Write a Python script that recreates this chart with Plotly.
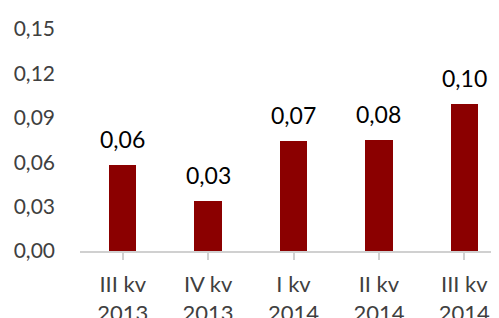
import plotly.graph_objects as go

categories = ["III kv<br>2013", "IV kv<br>2013", "I kv<br>2014", "II kv<br>2014", "III kv<br>2014"]
values = [0.058, 0.034, 0.074, 0.0752, 0.099]
y_ticks = [0.0, 0.03, 0.06, 0.09, 0.12, 0.15]
y_tick_text = ["0,00", "0,03", "0,06", "0,09", "0,12", "0,15"]
bar_color = "#8B0000"

fig = go.Figure()
fig.add_trace(go.Bar(
    x=list(range(len(categories))),
    y=values,
    marker=dict(color=bar_color, line=dict(width=0)),
    width=0.32,
    hoverinfo="skip",
))

annotations = []
for i, v in enumerate(values):
    annotations.append(dict(
        x=i, y=v, xref="x", yref="y",
        text=f"{v:.2f}".replace(".", ","),
        showarrow=False, yanchor="middle", yshift=26,
        font=dict(family="Lato", size=23, color="#000000"),
    ))

# page body has an 8px default margin; compensate in the layout
W = 483
fig.update_layout(
    width=W, height=326,
    margin=dict(l=72, r=0, t=21, b=83, autoexpand=False),
    paper_bgcolor="white", plot_bgcolor="white",
    showlegend=False,
    bargap=0,
    annotations=annotations,
    font=dict(family="Lato", size=22, color="#404040"),
)
fig.update_xaxes(
    range=[-0.5, -0.5 + (W - 72) / 85.4],
    tickmode="array",
    tickvals=list(range(len(categories))),
    ticktext=categories,
    tickson="boundaries",
    ticks="outside", ticklen=7, tickwidth=1.5, tickcolor="#d0d0d0",
    showline=True, linecolor="#d0d0d0", linewidth=1.5,
    showgrid=False, zeroline=False,
    tickfont=dict(family="Lato", size=22, color="#404040"),
    ticklabelstandoff=6,
    automargin=False,
)
fig.update_yaxes(
    range=[0, 0.15],
    tickmode="array",
    tickvals=y_ticks,
    ticktext=y_tick_text,
    showgrid=False, zeroline=False, showline=False,
    ticks="",
    ticklabelstandoff=24,
    tickfont=dict(family="Lato", size=21, color="#404040"),
    automargin=False,
)

fig.write_html("out.html")
